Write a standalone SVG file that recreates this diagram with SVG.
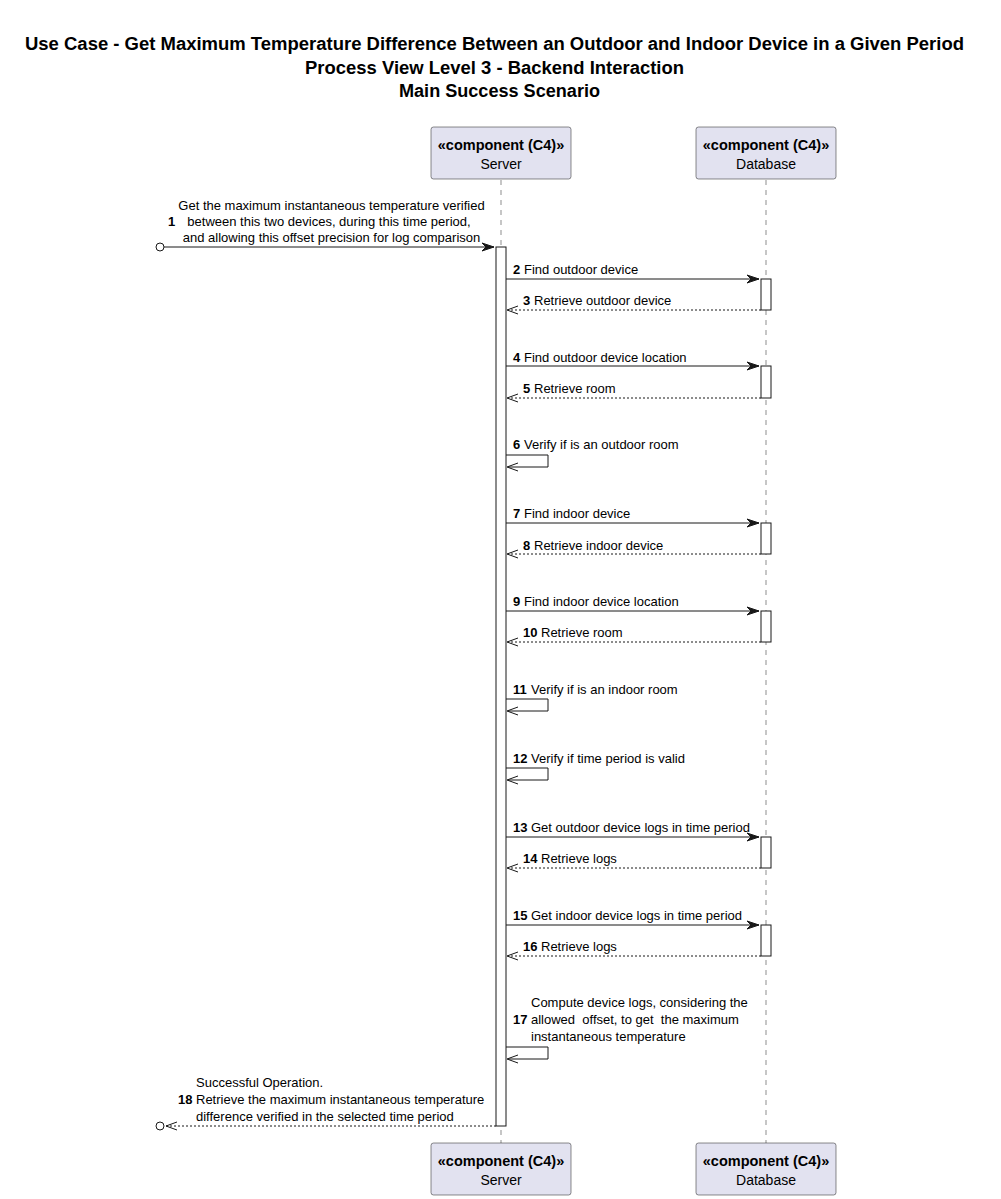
<svg xmlns="http://www.w3.org/2000/svg" width="1001" height="1199" viewBox="0 0 1001 1199">
<defs>
<style>
text{font-family:"Liberation Sans",Arial,sans-serif;fill:#000;white-space:pre}
.title{font-size:18px;font-weight:bold;text-anchor:middle}
.st{font-size:14.5px;font-weight:bold;text-anchor:middle}
.pn{font-size:14px;text-anchor:middle}
.m{font-size:13px}
.n{font-size:13px;font-weight:bold}
.box{fill:#E2E2F0;stroke:#181818;stroke-width:0.5}
.life{stroke:#181818;stroke-width:0.5;stroke-dasharray:5,5;fill:none}
.act{fill:#fff;stroke:#181818;stroke-width:1}
.sol{stroke:#181818;stroke-width:1;fill:none}
.dash{stroke:#181818;stroke-width:1;fill:none;stroke-dasharray:2,2}
.head{fill:#181818;stroke:#181818;stroke-width:1}
.open{fill:none;stroke:#181818;stroke-width:1}
</style>
</defs>
<text class="title" x="494.5" y="50" textLength="939" lengthAdjust="spacingAndGlyphs">Use Case - Get Maximum Temperature Difference Between an Outdoor and Indoor Device in a Given Period</text>
<text class="title" x="494.5" y="74" textLength="379" lengthAdjust="spacingAndGlyphs">Process View Level 3 - Backend Interaction</text>
<text class="title" x="499.5" y="97" textLength="201" lengthAdjust="spacingAndGlyphs">Main Success Scenario</text>

<g id="lifelines">
<line class="life" x1="501" y1="180" x2="501" y2="1143"/>
<line class="life" x1="766" y1="180" x2="766" y2="1143"/>
</g>

<g id="server">
<rect class="box" x="431" y="127" width="140" height="52" rx="2.5"/>
<text class="st" x="501" y="150">«component (C4)»</text>
<text class="pn" x="501" y="169">Server</text>
<rect class="box" x="431" y="1143" width="140" height="52" rx="2.5"/>
<text class="st" x="501" y="1166">«component (C4)»</text>
<text class="pn" x="501" y="1185">Server</text>
</g>
<g id="database">
<rect class="box" x="696" y="127" width="140" height="52" rx="2.5"/>
<text class="st" x="766" y="150">«component (C4)»</text>
<text class="pn" x="766" y="169">Database</text>
<rect class="box" x="696" y="1143" width="140" height="52" rx="2.5"/>
<text class="st" x="766" y="1166">«component (C4)»</text>
<text class="pn" x="766" y="1185">Database</text>
</g>

<g id="activations">
<rect class="act" x="496" y="247" width="10" height="879"/>
<rect class="act" x="761" y="279" width="10" height="31"/>
<rect class="act" x="761" y="366" width="10" height="32"/>
<rect class="act" x="761" y="523" width="10" height="31"/>
<rect class="act" x="761" y="611" width="10" height="31"/>
<rect class="act" x="761" y="837" width="10" height="31"/>
<rect class="act" x="761" y="925" width="10" height="31"/>
</g>

<g id="connectors">
<!-- 1 -->
<circle cx="160" cy="247" r="4" fill="#fff" stroke="#181818" stroke-width="1"/>
<line class="sol" x1="164" y1="247" x2="494" y2="247"/>
<polygon class="head" points="482,243 494,247 482,251 486,247"/>
<text class="n" x="168" y="226">1</text>
<text class="m" x="331.5" y="210" text-anchor="middle">Get the maximum instantaneous temperature verified</text>
<text class="m" x="329" y="226" text-anchor="middle">between this two devices, during this time period,</text>
<text class="m" x="331.5" y="242" text-anchor="middle">and allowing this offset precision for log comparison</text>

<!-- 2 -->
<line class="sol" x1="506" y1="279" x2="759" y2="279"/>
<polygon class="head" points="747,275 759,279 747,283 751,279"/>
<text class="n" x="513" y="274">2</text><text class="m" x="524" y="274">Find outdoor device</text>
<!-- 3 -->
<line class="dash" x1="761" y1="310" x2="508" y2="310"/>
<polyline class="open" points="518,306 507,310 518,314"/>
<text class="n" x="523" y="305">3</text><text class="m" x="534" y="305">Retrieve outdoor device</text>

<!-- 4 -->
<line class="sol" x1="506" y1="366" x2="759" y2="366"/>
<polygon class="head" points="747,362 759,366 747,370 751,366"/>
<text class="n" x="513" y="362">4</text><text class="m" x="524" y="362">Find outdoor device location</text>
<!-- 5 -->
<line class="dash" x1="761" y1="398" x2="508" y2="398"/>
<polyline class="open" points="518,394 507,398 518,402"/>
<text class="n" x="523" y="393">5</text><text class="m" x="534" y="393">Retrieve room</text>

<!-- 6 -->
<polyline class="sol" points="506,455 548,455 548,467 508,467"/>
<polyline class="open" points="518,463 507,467 518,471"/>
<text class="n" x="513" y="449">6</text><text class="m" x="524" y="449">Verify if is an outdoor room</text>

<!-- 7 -->
<line class="sol" x1="506" y1="523" x2="759" y2="523"/>
<polygon class="head" points="747,519 759,523 747,527 751,523"/>
<text class="n" x="513" y="518">7</text><text class="m" x="524" y="518">Find indoor device</text>
<!-- 8 -->
<line class="dash" x1="761" y1="554" x2="508" y2="554"/>
<polyline class="open" points="518,550 507,554 518,558"/>
<text class="n" x="523" y="550">8</text><text class="m" x="534" y="550">Retrieve indoor device</text>

<!-- 9 -->
<line class="sol" x1="506" y1="611" x2="759" y2="611"/>
<polygon class="head" points="747,607 759,611 747,615 751,611"/>
<text class="n" x="513" y="606">9</text><text class="m" x="524" y="606">Find indoor device location</text>
<!-- 10 -->
<line class="dash" x1="761" y1="642" x2="508" y2="642"/>
<polyline class="open" points="518,638 507,642 518,646"/>
<text class="n" x="523" y="637">10</text><text class="m" x="541" y="637">Retrieve room</text>

<!-- 11 -->
<polyline class="sol" points="506,699 548,699 548,711 508,711"/>
<polyline class="open" points="518,707 507,711 518,715"/>
<text class="n" x="513" y="694">11</text><text class="m" x="531" y="694">Verify if is an indoor room</text>

<!-- 12 -->
<polyline class="sol" points="506,768 548,768 548,780 508,780"/>
<polyline class="open" points="518,776 507,780 518,784"/>
<text class="n" x="513" y="763">12</text><text class="m" x="531" y="763">Verify if time period is valid</text>

<!-- 13 -->
<line class="sol" x1="506" y1="837" x2="759" y2="837"/>
<polygon class="head" points="747,833 759,837 747,841 751,837"/>
<text class="n" x="513" y="832">13</text><text class="m" x="531" y="832">Get outdoor device logs in time period</text>
<!-- 14 -->
<line class="dash" x1="761" y1="868" x2="508" y2="868"/>
<polyline class="open" points="518,864 507,868 518,872"/>
<text class="n" x="523" y="863">14</text><text class="m" x="541" y="863">Retrieve logs</text>

<!-- 15 -->
<line class="sol" x1="506" y1="925" x2="759" y2="925"/>
<polygon class="head" points="747,921 759,925 747,929 751,925"/>
<text class="n" x="513" y="920">15</text><text class="m" x="531" y="920">Get indoor device logs in time period</text>
<!-- 16 -->
<line class="dash" x1="761" y1="956" x2="508" y2="956"/>
<polyline class="open" points="518,952 507,956 518,960"/>
<text class="n" x="523" y="951">16</text><text class="m" x="541" y="951">Retrieve logs</text>

<!-- 17 -->
<polyline class="sol" points="506,1047 548,1047 548,1059 508,1059"/>
<polyline class="open" points="518,1055 507,1059 518,1063"/>
<text class="n" x="513" y="1024">17</text>
<text class="m" x="531" y="1007">Compute device logs, considering the</text>
<text class="m" x="531" y="1024">allowed  offset, to get  the maximum</text>
<text class="m" x="531" y="1041">instantaneous temperature</text>

<!-- 18 -->
<line class="dash" x1="496" y1="1126" x2="166" y2="1126"/>
<polyline class="open" points="177,1122 166,1126 177,1130"/>
<circle cx="160" cy="1126" r="4" fill="#fff" stroke="#181818" stroke-width="1"/>
<text class="n" x="178" y="1104">18</text>
<text class="m" x="196" y="1087">Successful Operation.</text>
<text class="m" x="196" y="1104">Retrieve the maximum instantaneous temperature</text>
<text class="m" x="196" y="1121">difference verified in the selected time period</text>
</g>
</svg>
